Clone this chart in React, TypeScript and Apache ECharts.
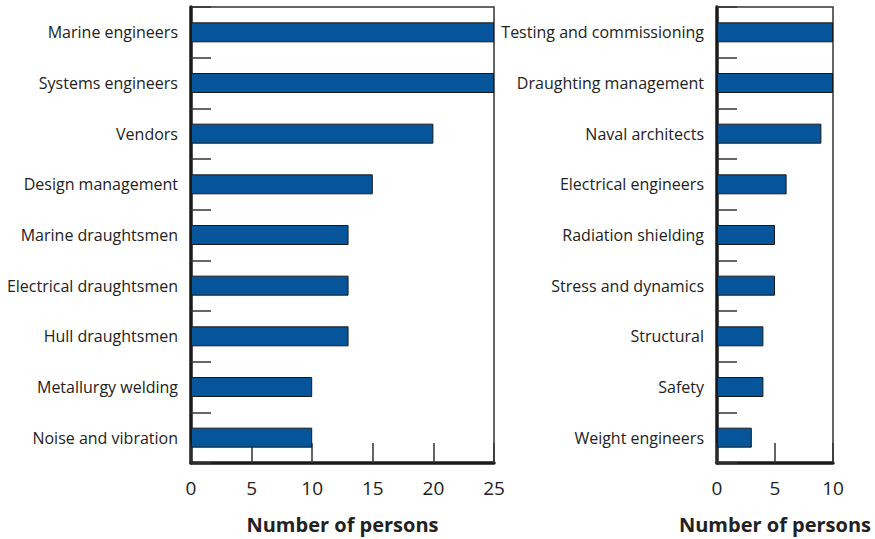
import React, { useEffect, useRef } from "react";
import * as echarts from "echarts";

const leftCategories = [
  "Marine engineers",
  "Systems engineers",
  "Vendors",
  "Design management",
  "Marine draughtsmen",
  "Electrical draughtsmen",
  "Hull draughtsmen",
  "Metallurgy welding",
  "Noise and vibration",
];
const leftValues = [25, 25, 20, 15, 13, 13, 13, 10, 10];

const rightCategories = [
  "Testing and commissioning",
  "Draughting management",
  "Naval architects",
  "Electrical engineers",
  "Radiation shielding",
  "Stress and dynamics",
  "Structural",
  "Safety",
  "Weight engineers",
];
const rightValues = [10, 10, 9, 6, 5, 5, 4, 4, 3];

const axisName = "Number of persons";
const FONT = "Open Sans";
const BAR = "#06559a";

export default function App() {
  const ref = useRef<HTMLDivElement>(null);
  useEffect(() => {
    if (!ref.current) return;
    const chart = echarts.init(ref.current, null, { renderer: "svg" });
    const xAxisCommon = (max: number) => ({
      type: "value",
      min: 0,
      max,
      interval: 5,
      splitLine: { show: false },
      axisLine: { show: true, lineStyle: { color: "#1a1a1a", width: 3.5 } },
      axisTick: { show: true, inside: true, length: 20, lineStyle: { color: "#333", width: 1.5 } },
      axisLabel: { fontSize: 19, color: "#222", fontFamily: FONT, margin: 15 },
      name: axisName,
      nameLocation: "middle",
      nameGap: 51,
      nameTextStyle: { fontSize: 20, fontWeight: "bold", color: "#222", fontFamily: FONT },
    });
    const yAxisCommon = (cats: string[]) => ({
      type: "category",
      data: cats,
      inverse: true,
      axisLine: { show: true, lineStyle: { color: "#1a1a1a", width: 3.5 } },
      axisTick: { show: true, inside: true, length: 20, lineStyle: { color: "#333", width: 1.5 } },
      axisLabel: { fontSize: 16, color: "#222", fontFamily: FONT, margin: 13 },
    });
    chart.setOption({
      animation: false,
      backgroundColor: "#fff",
      grid: [
        { left: 191, right: 381, top: 7, bottom: 75, show: true, borderColor: "#333", borderWidth: 1.5 },
        { left: 717, right: 42, top: 7, bottom: 75, show: true, borderColor: "#333", borderWidth: 1.5 },
      ],
      xAxis: [
        { ...xAxisCommon(25), gridIndex: 0 },
        { ...xAxisCommon(10), gridIndex: 1 },
      ],
      yAxis: [
        { ...yAxisCommon(leftCategories), gridIndex: 0 },
        { ...yAxisCommon(rightCategories), gridIndex: 1 },
      ],
      series: [
        {
          type: "bar",
          xAxisIndex: 0,
          yAxisIndex: 0,
          data: leftValues,
          barWidth: 20,
          itemStyle: { color: BAR, borderColor: "#1a1a1a", borderWidth: 1 },
        },
        {
          type: "bar",
          xAxisIndex: 1,
          yAxisIndex: 1,
          data: rightValues,
          barWidth: 20,
          itemStyle: { color: BAR, borderColor: "#1a1a1a", borderWidth: 1 },
        },
      ],
    });
    return () => chart.dispose();
  }, []);
  return (
    <div
      ref={ref}
      style={{ position: "fixed", left: 0, top: 0, width: 875, height: 539, background: "#fff" }}
    />
  );
}
